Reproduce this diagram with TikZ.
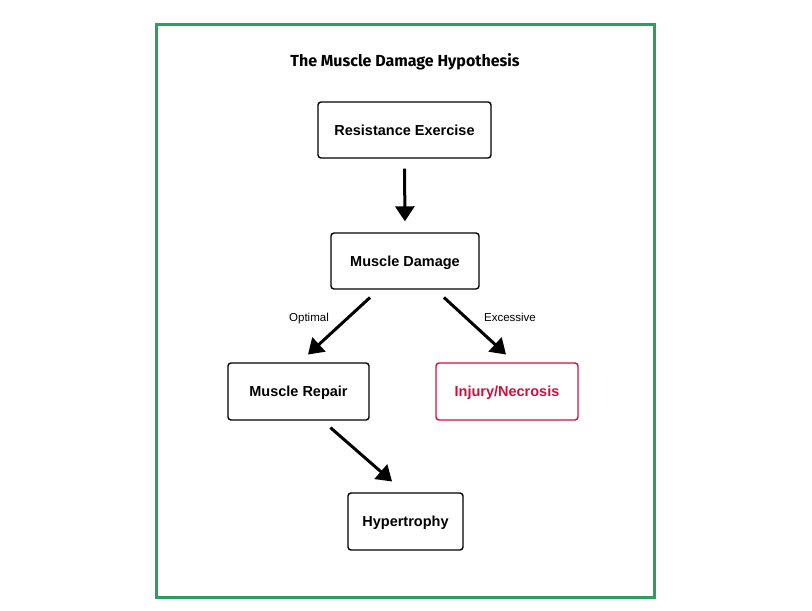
\documentclass[tikz,border=0pt]{standalone}
\usepackage{fontspec}
\setmainfont{Liberation Sans}
\newfontfamily\titlefont{Fira Sans}
\usetikzlibrary{arrows.meta}
\definecolor{framegreen}{RGB}{46,158,94}
\definecolor{injred}{RGB}{208,16,58}
\tikzset{
  stepbox/.style={draw, rounded corners=3pt, line width=1.4pt, inner sep=0pt,
    text height=10.5pt, text depth=0pt,
    font=\fontsize{14.5}{17}\selectfont\bfseries},
  flow/.style={line width=3pt, -{Triangle[length=15pt,width=19pt]}},
  tag/.style={font=\fontsize{11.5}{13}\selectfont, inner sep=1pt, anchor=base}
}
\begin{document}
\begin{tikzpicture}[x=1pt, y=-1pt, line width=0.6pt]
  \useasboundingbox (0,0) rectangle (812,611);
  \draw[framegreen, line width=3pt] (156,24) rectangle (654,597);
  \node[font=\titlefont\fontsize{16}{19}\selectfont\bfseries, anchor=base] (title) at (405,66) {The Muscle Damage Hypothesis};
  % boxes
  \node[stepbox, minimum width=173pt, minimum height=56pt] (res) at (404.5,130) {Resistance Exercise};
  \node[stepbox, minimum width=148pt, minimum height=56pt] (dmg) at (405,261) {Muscle Damage};
  \node[stepbox, minimum width=141pt, minimum height=57pt] (rep) at (298.5,391.5) {Muscle Repair};
  \node[stepbox, draw=injred, text=injred, minimum width=142pt, minimum height=57pt] (inj) at (507,391.5) {Injury/Necrosis};
  \node[stepbox, minimum width=115pt, minimum height=57pt] (hyp) at (405.5,521.5) {Hypertrophy};
  % arrows
  \draw[flow, shorten <=10pt, shorten >=11pt] (res.south) -- (dmg.north);
  \draw[flow, shorten <=11.5pt, shorten >=11.5pt] ([xshift=-26.5pt]dmg.south) -- ([xshift=1pt]rep.north);
  \draw[flow, shorten <=11.5pt, shorten >=11.5pt] ([xshift=30.5pt]dmg.south) -- ([xshift=7.5pt]inj.north);
  \draw[flow, shorten <=10.5pt, shorten >=16.5pt] ([xshift=24pt]rep.south) -- ([xshift=-1pt]hyp.north);
  % labels
  \node[tag] (opt) at (309,321) {Optimal};
  \node[tag] (exc) at (510,321) {Excessive};
\end{tikzpicture}
\end{document}
